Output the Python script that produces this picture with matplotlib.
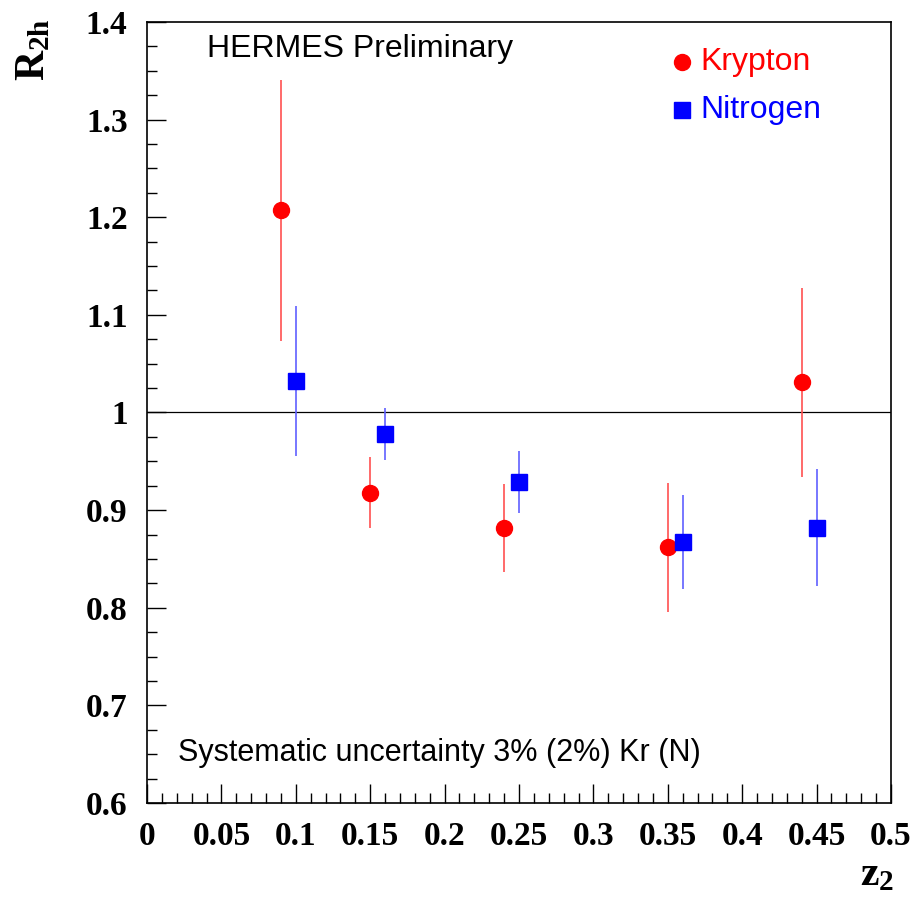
import numpy as np
import matplotlib.pyplot as plt
from matplotlib.ticker import MultipleLocator, FuncFormatter

# Krypton
kr_z = [0.09, 0.15, 0.24, 0.35, 0.44]
kr_r = [1.207, 0.918, 0.882, 0.862, 1.031]
kr_err = [0.134, 0.036, 0.045, 0.066, 0.097]

# Nitrogen
n_z = [0.10, 0.16, 0.25, 0.36, 0.45]
n_r = [1.032, 0.978, 0.929, 0.867, 0.882]
n_err = [0.077, 0.027, 0.032, 0.048, 0.060]

SERIF = "Liberation Serif"
LABEL_FONT = "Liberation Sans"

plt.rcParams["mathtext.fontset"] = "custom"
plt.rcParams["mathtext.rm"] = "Liberation Serif:bold"
plt.rcParams["mathtext.bf"] = "Liberation Serif:bold"
plt.rcParams["mathtext.it"] = "Liberation Serif:bold"

fig = plt.figure(figsize=(9.16, 8.97), dpi=100)
ax = fig.add_axes([0.1605, 0.1048, 0.8122, 0.8707])

ax.axhline(1.0, color="black", linewidth=0.9)

ax.errorbar(kr_z, kr_r, yerr=kr_err, fmt="o", color="red", ecolor="#ff5050",
            elinewidth=1.2, markersize=11.5, capsize=0)
ax.errorbar(n_z, n_r, yerr=n_err, fmt="s", color="blue", ecolor="#6060ff",
            elinewidth=1.2, markersize=11.5, capsize=0)

ax.set_xlim(0, 0.5)
ax.set_ylim(0.6, 1.4)

ax.xaxis.set_major_locator(MultipleLocator(0.05))
ax.xaxis.set_minor_locator(MultipleLocator(0.01))
ax.yaxis.set_major_locator(MultipleLocator(0.1))
ax.yaxis.set_minor_locator(MultipleLocator(0.025))

fmt = FuncFormatter(lambda v, p: f"{v:.2f}".rstrip("0").rstrip(".") if v != 0 else "0")
ax.xaxis.set_major_formatter(fmt)
ax.yaxis.set_major_formatter(fmt)

ax.tick_params(which="both", direction="in", top=False, right=False)
ax.tick_params(which="major", length=14, width=1)
ax.tick_params(which="minor", length=7, width=1)
ax.tick_params(axis="x", pad=13)
ax.tick_params(axis="y", pad=14)
for lbl in ax.get_xticklabels() + ax.get_yticklabels():
    lbl.set_fontfamily(SERIF)
    lbl.set_fontweight("bold")
    lbl.set_fontsize(24)

for sp in ax.spines.values():
    sp.set_linewidth(1.2)

ax.text(0.081, 0.985, "HERMES Preliminary", transform=ax.transAxes,
        fontsize=23, family=LABEL_FONT, va="top", ha="left")
ax.text(0.042, 0.045, "Systematic uncertainty 3% (2%) Kr (N)", transform=ax.transAxes,
        fontsize=22, family=LABEL_FONT, va="bottom", ha="left")

# legend entries
ax.plot([0.3595], [1.3595], "o", color="red", markersize=11.5)
ax.text(0.3716, 1.3595, "Krypton", color="red", fontsize=23, family=LABEL_FONT, va="center")
ax.plot([0.3595], [1.3103], "s", color="blue", markersize=11.5)
ax.text(0.3716, 1.3103, "Nitrogen", color="blue", fontsize=23, family=LABEL_FONT, va="center")

fig.text(0.035, 0.945, r"$\mathbf{R_{2h}}$", rotation=90, fontsize=30,
         ha="center", va="center")
fig.text(0.958, 0.026, r"$\mathbf{z_{2}}$", fontsize=30,
         ha="center", va="center")

fig.savefig("out.png", dpi=100)
